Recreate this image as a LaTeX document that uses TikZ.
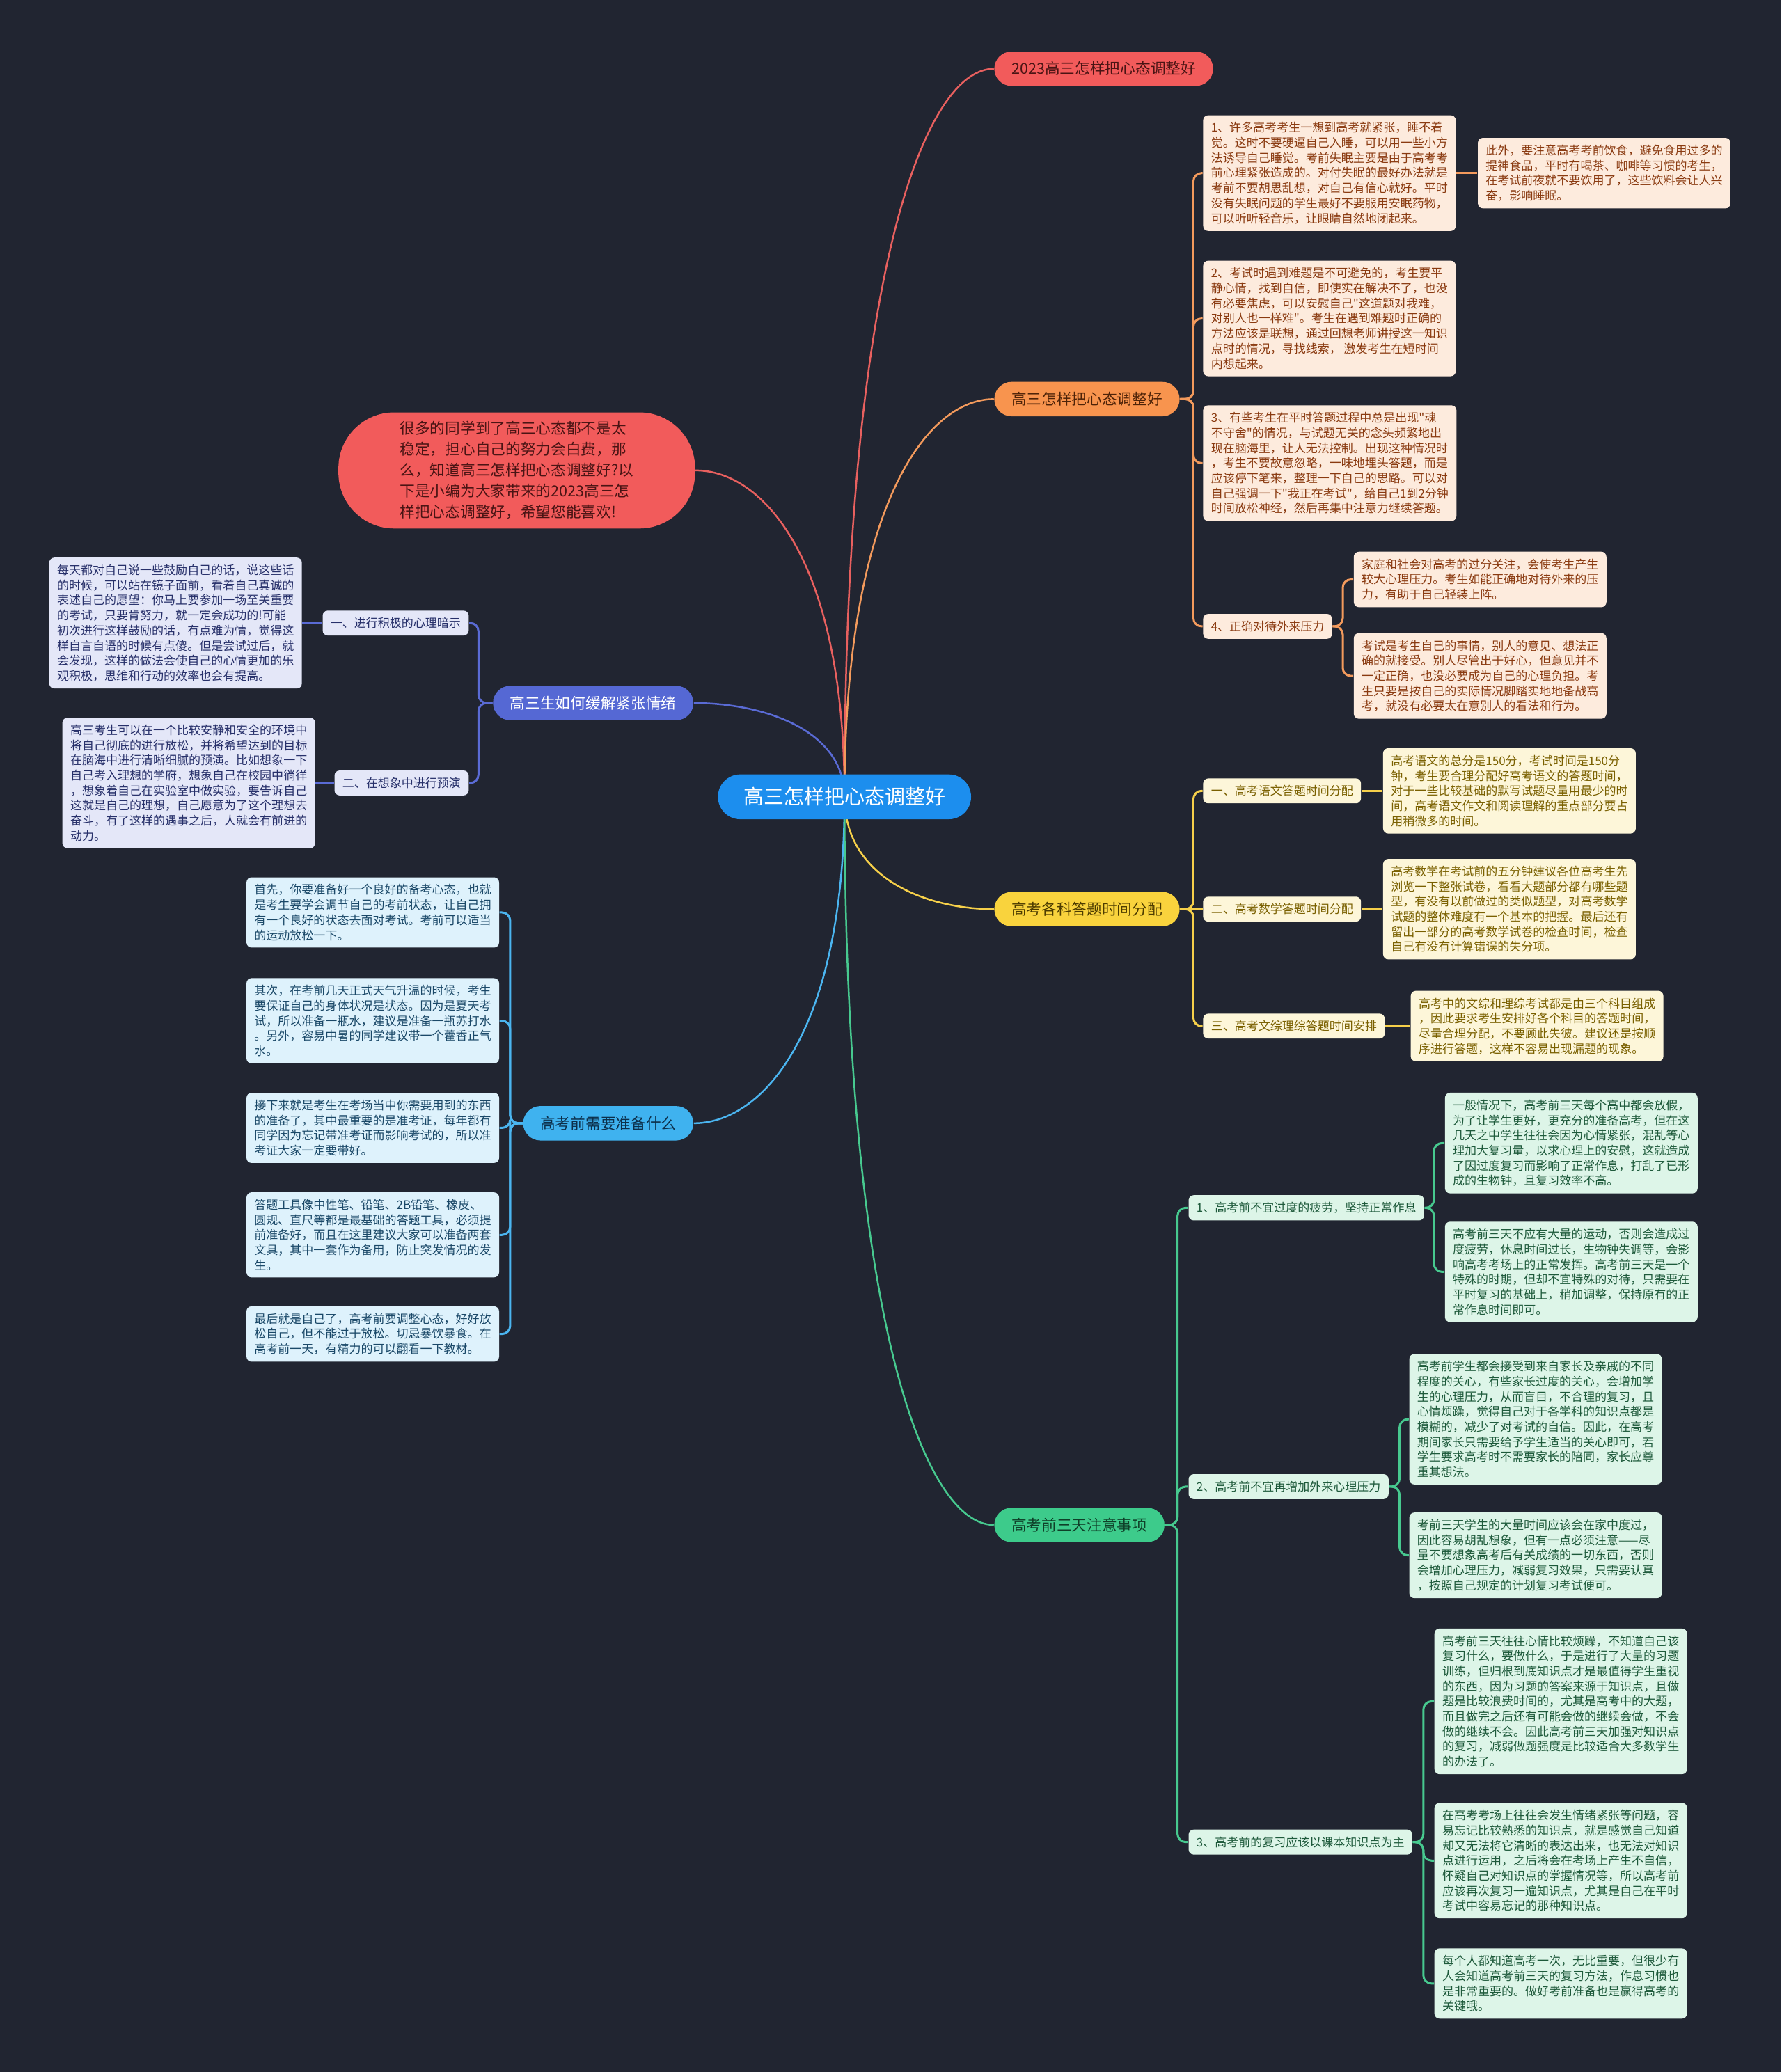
\documentclass[tikz,border=0pt]{standalone}
\usepackage{fontspec}
\newfontfamily\cjk{Noto Sans CJK SC}
\usetikzlibrary{calc,backgrounds}
\definecolor{bgc}{HTML}{212531}
\definecolor{cblue}{HTML}{1C8EEE}
\definecolor{pred}{HTML}{F25B5B}
\definecolor{predtext}{HTML}{4A1414}
\definecolor{porange}{HTML}{F8944E}
\definecolor{porangetext}{HTML}{4E2308}
\definecolor{pyellow}{HTML}{F9D33D}
\definecolor{pyellowtext}{HTML}{4D3C00}
\definecolor{pgreen}{HTML}{3DCB8B}
\definecolor{pgreentext}{HTML}{0F3F28}
\definecolor{pindigo}{HTML}{5568D4}
\definecolor{pltblue}{HTML}{3FB2EF}
\definecolor{pltbluetext}{HTML}{0C2F4A}
\definecolor{lred}{HTML}{E8605F}
\definecolor{lorange}{HTML}{F39A5C}
\definecolor{lyellow}{HTML}{F6D04A}
\definecolor{lgreen}{HTML}{47C98F}
\definecolor{lindigo}{HTML}{5A6BD5}
\definecolor{lltblue}{HTML}{4BB5F0}
\definecolor{forange}{HTML}{FDEBDD}
\definecolor{torange}{HTML}{8A3A10}
\definecolor{fyellow}{HTML}{FDF6D9}
\definecolor{tyellow}{HTML}{7A6000}
\definecolor{fgreen}{HTML}{DDF5E8}
\definecolor{tgreen}{HTML}{1E5A3B}
\definecolor{findigo}{HTML}{E4E7F8}
\definecolor{tindigo}{HTML}{27306A}
\definecolor{fltblue}{HTML}{DEF2FC}
\definecolor{tltblue}{HTML}{1A4868}
\tikzset{
 leafbase/.style={rounded corners=2.2pt, inner xsep=3.4pt, inner ysep=3pt, align=left, font=\cjk\fontsize{5.1}{6.5}\selectfont},
 labbase/.style={rounded corners=2.2pt, inner xsep=3.4pt, inner ysep=3pt, font=\cjk\fontsize{5.1}{6.5}\selectfont},
 pillbase/.style={rounded corners=7.4pt, inner xsep=7.4pt, inner ysep=0pt, minimum height=14.8pt, font=\cjk\fontsize{6.5}{8}\selectfont},
 oleaf/.style={leafbase, fill=forange, text=torange},
 yleaf/.style={leafbase, fill=fyellow, text=tyellow},
 gleaf/.style={leafbase, fill=fgreen, text=tgreen},
 ileaf/.style={leafbase, fill=findigo, text=tindigo},
 bleaf/.style={leafbase, fill=fltblue, text=tltblue},
 olab/.style={labbase, fill=forange, text=torange},
 ylab/.style={labbase, fill=fyellow, text=tyellow},
 glab/.style={labbase, fill=fgreen, text=tgreen},
 ilab/.style={labbase, fill=findigo, text=tindigo},
 centernode/.style={fill=cblue, text=white, rounded corners=9.6pt, minimum height=19.3pt, inner xsep=11pt, inner ysep=0pt, font=\cjk\fontsize{8.7}{10}\selectfont},
 intronode/.style={fill=pred, text=predtext, rounded corners=24pt, minimum width=153.6pt, minimum height=50pt, align=left, font=\cjk\fontsize{6.5}{9}\selectfont},
 mainline/.style={line width=0.75pt},
 subline/.style={line width=0.9pt, rounded corners=3.5pt},
}
\newcommand\rconn[4]{\draw[subline,#1] (#2.east) -| ($(#3.west)+(#4,0)$) -- (#3.west);}
\newcommand\lconn[4]{\draw[subline,#1] (#2.west) -| ($(#3.east)+(#4,0)$) -- (#3.east);}
\begin{document}
\begin{tikzpicture}[x=0.02cm,y=-0.02cm]
\useasboundingbox (0,0) rectangle (1348,1568);
% center
\node[centernode] (c) at (639,603) {高三怎样把心态调整好};
% main branches
\node[pillbase, fill=pred, text=predtext, anchor=west] (rb) at (752,52) {2023高三怎样把心态调整好};
\node[pillbase, fill=porange, text=porangetext, anchor=west] (ob) at (752,302) {高三怎样把心态调整好};
\node[pillbase, fill=pyellow, text=pyellowtext, anchor=west] (yb) at (752,688) {高考各科答题时间分配};
\node[pillbase, fill=pgreen, text=pgreentext, anchor=west] (gb) at (752,1154) {高考前三天注意事项};
\node[pillbase, fill=pindigo, text=white, anchor=east] (ib) at (525,532) {高三生如何缓解紧张情绪};
\node[pillbase, fill=pltblue, text=pltbluetext, anchor=east] (lb) at (525,850) {高考前需要准备什么};
\node[intronode] (intro) at (391,356) {很多的同学到了高三心态都不是太\\稳定，担心自己的努力会白费，那\\么，知道高三怎样把心态调整好?以\\下是小编为大家带来的2023高三怎\\样把心态调整好，希望您能喜欢!};
% orange branch
\node[oleaf, anchor=west] (o1) at (910,131) {1、许多高考考生一想到高考就紧张，睡不着\\觉。这时不要硬逼自己入睡，可以用一些小方\\法诱导自己睡觉。考前失眠主要是由于高考考\\前心理紧张造成的。对付失眠的最好办法就是\\考前不要胡思乱想，对自己有信心就好。平时\\没有失眠问题的学生最好不要服用安眠药物，\\可以听听轻音乐，让眼睛自然地闭起来。};
\node[oleaf, anchor=west] (o1b) at ($(o1.east)+(16,0)$) {此外，要注意高考考前饮食，避免食用过多的\\提神食品，平时有喝茶、咖啡等习惯的考生，\\在考试前夜就不要饮用了，这些饮料会让人兴\\奋，影响睡眠。};
\node[oleaf, anchor=west] (o2) at (910,241) {2、考试时遇到难题是不可避免的，考生要平\\静心情，找到自信，即使实在解决不了，也没\\有必要焦虑，可以安慰自己"这道题对我难，\\对别人也一样难"。考生在遇到难题时正确的\\方法应该是联想，通过回想老师讲授这一知识\\点时的情况，寻找线索， 激发考生在短时间\\内想起来。};
\node[oleaf, anchor=west] (o3) at (910,350.5) {3、有些考生在平时答题过程中总是出现"魂\\不守舍"的情况，与试题无关的念头频繁地出\\现在脑海里，让人无法控制。出现这种情况时\\，考生不要故意忽略，一味地埋头答题，而是\\应该停下笔来，整理一下自己的思路。可以对\\自己强调一下"我正在考试"，给自己1到2分钟\\时间放松神经，然后再集中注意力继续答题。};
\node[olab, anchor=west] (o4) at (910,474) {4、正确对待外来压力};
\node[oleaf, anchor=west] (o4a) at (1024,438.5) {家庭和社会对高考的过分关注，会使考生产生\\较大心理压力。考生如能正确地对待外来的压\\力，有助于自己轻装上阵。};
\node[oleaf, anchor=west] (o4b) at (1024,511.5) {考试是考生自己的事情，别人的意见、想法正\\确的就接受。别人尽管出于好心，但意见并不\\一定正确，也没必要成为自己的心理负担。考\\生只要是按自己的实际情况脚踏实地地备战高\\考，就没有必要太在意别人的看法和行为。};
% indigo branch
\node[ilab, anchor=east] (c1) at (355,471.5) {一、进行积极的心理暗示};
\node[ileaf, anchor=east] (c1l) at ($(c1.west)+(-15,0)$) {每天都对自己说一些鼓励自己的话，说这些话\\的时候，可以站在镜子面前，看着自己真诚的\\表述自己的愿望：你马上要参加一场至关重要\\的考试，只要肯努力，就一定会成功的!可能\\初次进行这样鼓励的话，有点难为情，觉得这\\样自言自语的时候有点傻。但是尝试过后，就\\会发现，这样的做法会使自己的心情更加的乐\\观积极，思维和行动的效率也会有提高。};
\node[ilab, anchor=east] (c2) at (355,592.5) {二、在想象中进行预演};
\node[ileaf, anchor=east] (c2l) at ($(c2.west)+(-14,0)$) {高三考生可以在一个比较安静和安全的环境中\\将自己彻底的进行放松，并将希望达到的目标\\在脑海中进行清晰细腻的预演。比如想象一下\\自己考入理想的学府，想象自己在校园中徜徉\\，想象着自己在实验室中做实验，要告诉自己\\这就是自己的理想，自己愿意为了这个理想去\\奋斗，有了这样的遇事之后，人就会有前进的\\动力。};
% light blue branch
\node[bleaf, anchor=east] (l1) at (378,690.5) {首先，你要准备好一个良好的备考心态，也就\\是考生要学会调节自己的考前状态，让自己拥\\有一个良好的状态去面对考试。考前可以适当\\的运动放松一下。};
\node[bleaf, anchor=east] (l2) at (378,772.5) {其次，在考前几天正式天气升温的时候，考生\\要保证自己的身体状况是状态。因为是夏天考\\试，所以准备一瓶水，建议是准备一瓶苏打水\\。另外，容易中暑的同学建议带一个藿香正气\\水。};
\node[bleaf, anchor=east] (l3) at (378,853.5) {接下来就是考生在考场当中你需要用到的东西\\的准备了，其中最重要的是准考证，每年都有\\同学因为忘记带准考证而影响考试的，所以准\\考证大家一定要带好。};
\node[bleaf, anchor=east] (l4) at (378,934.5) {答题工具像中性笔、铅笔、2B铅笔、橡皮、\\圆规、直尺等都是最基础的答题工具，必须提\\前准备好，而且在这里建议大家可以准备两套\\文具，其中一套作为备用，防止突发情况的发\\生。};
\node[bleaf, anchor=east] (l5) at (378,1009.5) {最后就是自己了，高考前要调整心态，好好放\\松自己，但不能过于放松。切忌暴饮暴食。在\\高考前一天，有精力的可以翻看一下教材。};
% yellow branch
\node[ylab, anchor=west] (y1) at (910,598.5) {一、高考语文答题时间分配};
\node[yleaf, anchor=west] (y1l) at ($(y1.east)+(16,0)$) {高考语文的总分是150分，考试时间是150分\\钟，考生要合理分配好高考语文的答题时间，\\对于一些比较基础的默写试题尽量用最少的时\\间，高考语文作文和阅读理解的重点部分要占\\用稍微多的时间。};
\node[ylab, anchor=west] (y2) at (910,688) {二、高考数学答题时间分配};
\node[yleaf, anchor=west] (y2l) at ($(y2.east)+(16,0)$) {高考数学在考试前的五分钟建议各位高考生先\\浏览一下整张试卷，看看大题部分都有哪些题\\型，有没有以前做过的类似题型，对高考数学\\试题的整体难度有一个基本的把握。最后还有\\留出一部分的高考数学试卷的检查时间，检查\\自己有没有计算错误的失分项。};
\node[ylab, anchor=west] (y3) at (910,776.5) {三、高考文综理综答题时间安排};
\node[yleaf, anchor=west] (y3l) at ($(y3.east)+(19,0)$) {高考中的文综和理综考试都是由三个科目组成\\，因此要求考生安排好各个科目的答题时间，\\尽量合理分配，不要顾此失彼。建议还是按顺\\序进行答题，这样不容易出现漏题的现象。};
% green branch
\node[glab, anchor=west] (g1) at (899,914) {1、高考前不宜过度的疲劳，坚持正常作息};
\node[gleaf, anchor=west] (g1a) at (1093,865) {一般情况下，高考前三天每个高中都会放假，\\为了让学生更好，更充分的准备高考，但在这\\几天之中学生往往会因为心情紧张，混乱等心\\理加大复习量，以求心理上的安慰，这就造成\\了因过度复习而影响了正常作息，打乱了已形\\成的生物钟，且复习效率不高。};
\node[gleaf, anchor=west] (g1b) at (1093,962.5) {高考前三天不应有大量的运动，否则会造成过\\度疲劳，休息时间过长，生物钟失调等，会影\\响高考考场上的正常发挥。高考前三天是一个\\特殊的时期，但却不宜特殊的对待，只需要在\\平时复习的基础上，稍加调整，保持原有的正\\常作息时间即可。};
\node[glab, anchor=west] (g2) at (899,1125) {2、高考前不宜再增加外来心理压力};
\node[gleaf, anchor=west] (g2a) at (1066,1074) {高考前学生都会接受到来自家长及亲戚的不同\\程度的关心，有些家长过度的关心，会增加学\\生的心理压力，从而盲目，不合理的复习，且\\心情烦躁，觉得自己对于各学科的知识点都是\\模糊的，减少了对考试的自信。因此，在高考\\期间家长只需要给予学生适当的关心即可，若\\学生要求高考时不需要家长的陪同，家长应尊\\重其想法。};
\node[gleaf, anchor=west] (g2b) at (1066,1177) {考前三天学生的大量时间应该会在家中度过，\\因此容易胡乱想象，但有一点必须注意——尽\\量不要想象高考后有关成绩的一切东西，否则\\会增加心理压力，减弱复习效果，只需要认真\\，按照自己规定的计划复习考试便可。};
\node[glab, anchor=west] (g3) at (899,1394) {3、高考前的复习应该以课本知识点为主};
\node[gleaf, anchor=west] (g3a) at (1085,1287.5) {高考前三天往往心情比较烦躁，不知道自己该\\复习什么，要做什么，于是进行了大量的习题\\训练，但归根到底知识点才是最值得学生重视\\的东西，因为习题的答案来源于知识点，且做\\题是比较浪费时间的，尤其是高考中的大题，\\而且做完之后还有可能会做的继续会做，不会\\做的继续不会。因此高考前三天加强对知识点\\的复习，减弱做题强度是比较适合大多数学生\\的办法了。};
\node[gleaf, anchor=west] (g3b) at (1085,1408) {在高考考场上往往会发生情绪紧张等问题，容\\易忘记比较熟悉的知识点，就是感觉自己知道\\却又无法将它清晰的表达出来，也无法对知识\\点进行运用，之后将会在考场上产生不自信，\\怀疑自己对知识点的掌握情况等，所以高考前\\应该再次复习一遍知识点，尤其是自己在平时\\考试中容易忘记的那种知识点。};
\node[gleaf, anchor=west] (g3c) at (1085,1501) {每个人都知道高考一次，无比重要，但很少有\\人会知道高考前三天的复习方法，作息习惯也\\是非常重要的。做好考前准备也是赢得高考的\\关键哦。};
% connectors
\begin{scope}[on background layer]
\fill[bgc] (0,0) rectangle (1348,1568);
\draw[mainline,lred] (c.center) .. controls (639,206) and (700,52) .. (rb.west);
\draw[mainline,lred] (c.center) .. controls (639,425) and (578,356) .. (intro.east);
\draw[mainline,lorange] (c.center) .. controls (639,386) and (700,302) .. (ob.west);
\draw[mainline,lindigo] (c.center) .. controls (639,552) and (577,532) .. (ib.east);
\draw[mainline,lyellow] (c.center) .. controls (639,664) and (700,688) .. (yb.west);
\draw[mainline,lltblue] (c.center) .. controls (639,781) and (577,850) .. (lb.east);
\draw[mainline,lgreen] (c.center) .. controls (639,1000) and (700,1154) .. (gb.west);
% orange
\rconn{lorange}{ob}{o1}{-7}
\rconn{lorange}{ob}{o2}{-7}
\rconn{lorange}{ob}{o3}{-7}
\rconn{lorange}{ob}{o4}{-7}
\draw[subline,lorange] (o1.east) -- (o1b.west);
\rconn{lorange}{o4}{o4a}{-8}
\rconn{lorange}{o4}{o4b}{-8}
% indigo
\lconn{lindigo}{ib}{c1}{7}
\lconn{lindigo}{ib}{c2}{7}
\draw[subline,lindigo] (c1.west) -- (c1l.east);
\draw[subline,lindigo] (c2.west) -- (c2l.east);
% light blue
\lconn{lltblue}{lb}{l1}{8}
\lconn{lltblue}{lb}{l2}{8}
\lconn{lltblue}{lb}{l3}{8}
\lconn{lltblue}{lb}{l4}{8}
\lconn{lltblue}{lb}{l5}{8}
% yellow
\rconn{lyellow}{yb}{y1}{-7}
\draw[subline,lyellow] (yb.east) -- (y2.west);
\rconn{lyellow}{yb}{y3}{-7}
\draw[subline,lyellow] (y1.east) -- (y1l.west);
\draw[subline,lyellow] (y2.east) -- (y2l.west);
\draw[subline,lyellow] (y3.east) -- (y3l.west);
% green
\rconn{lgreen}{gb}{g1}{-8}
\rconn{lgreen}{gb}{g2}{-8}
\rconn{lgreen}{gb}{g3}{-8}
\rconn{lgreen}{g1}{g1a}{-8}
\rconn{lgreen}{g1}{g1b}{-8}
\rconn{lgreen}{g2}{g2a}{-7}
\rconn{lgreen}{g2}{g2b}{-7}
\rconn{lgreen}{g3}{g3a}{-8}
\rconn{lgreen}{g3}{g3b}{-8}
\rconn{lgreen}{g3}{g3c}{-8}
\end{scope}
\end{tikzpicture}
\end{document}
